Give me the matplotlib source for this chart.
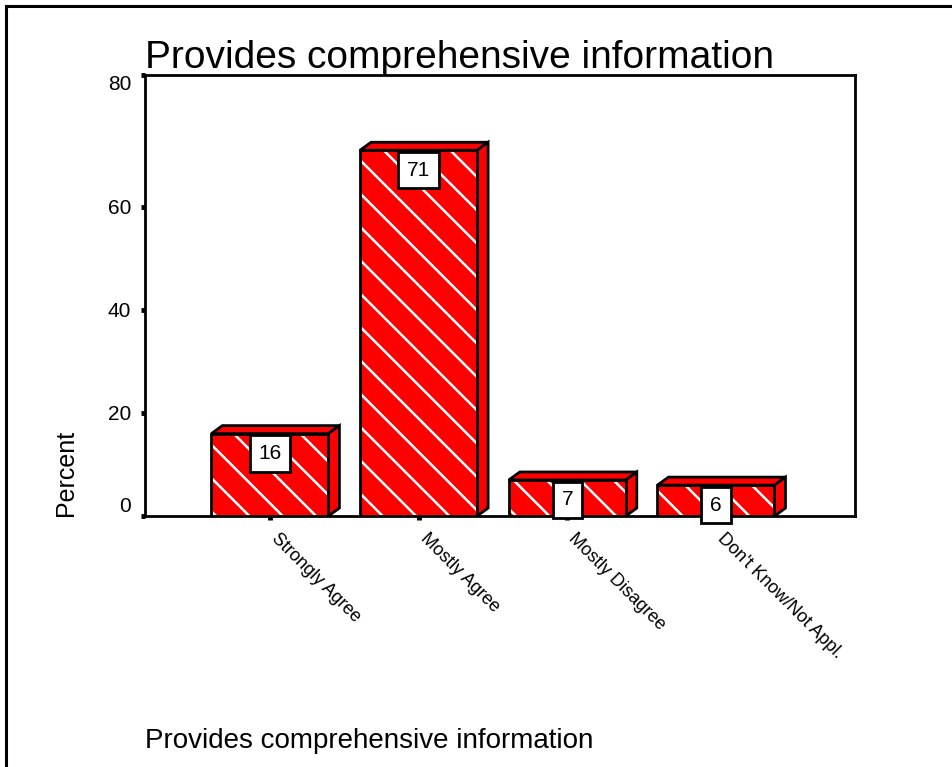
import numpy as np
import matplotlib
matplotlib.use('Agg')
import matplotlib.pyplot as plt
import matplotlib.transforms as mtransforms
from matplotlib.lines import Line2D

plt.rcParams['font.family'] = ['Liberation Sans', 'DejaVu Sans']
plt.rcParams['hatch.linewidth'] = 1.8

title = 'Provides comprehensive information'
categories = ['Strongly Agree', 'Mostly Agree', 'Mostly Disagree', "Don't Know/Not Appl."]
percent = [16, 71, 7, 6]
tick_labels = ['0', '20', '40', '60', '80']

red = '#ff0000'
y_top = 85.6
width = 0.787
dx, dy = 0.074, 1.55   # 3d depth in data units

fig = plt.figure(figsize=(9.52, 7.67), dpi=100)
ax = fig.add_axes([0.1523, 0.3272, 0.7458, 0.575])

x = np.arange(len(categories))
for xi, v in zip(x, percent):
    x0, x1 = xi - width / 2, xi + width / 2
    # top and side faces
    ax.fill([x0, x0 + dx, x1 + dx, x1], [v, v + dy, v + dy, v],
            facecolor=red, edgecolor='black', lw=2, zorder=2)
    ax.fill([x1, x1 + dx, x1 + dx, x1], [0, dy, v + dy, v],
            facecolor=red, edgecolor='black', lw=2, zorder=2)
ax.bar(x, percent, width, color=red, edgecolor='white', hatch='\\', lw=0, zorder=3)
ax.bar(x, percent, width, fill=False, edgecolor='black', lw=2, zorder=4)

for xi, v in zip(x, percent):
    ax.annotate(str(v), xy=(xi, v), xytext=(0, -7.5), textcoords='offset points',
                ha='center', va='top', fontsize=15, zorder=6,
                bbox=dict(boxstyle='square,pad=0.42', fc='white', ec='black', lw=2))

ax.set_xlim(-0.84, 3.935)
ax.set_ylim(0, y_top)
ax.set_yticks([0, 20, 40, 60, y_top], labels=tick_labels, fontsize=15)
ax.set_xticks(x)
ax.set_xticklabels(categories, rotation=-45, ha='left', va='top',
                   rotation_mode='anchor', fontsize=13)
ax.tick_params(axis='both', length=3, width=3.5, color='black')
ax.tick_params(axis='y', pad=7)
ax.tick_params(axis='x', pad=7)
ylabs = ax.get_yticklabels()
ylabs[0].set_va('bottom')
ylabs[-1].set_va('top')
shift = mtransforms.ScaledTranslation(10 / 100, 0, fig.dpi_scale_trans)
for lab in ax.get_xticklabels():
    lab.set_transform(lab.get_transform() + shift)
for s in ax.spines.values():
    s.set_linewidth(2)

fig.text(145 / 952, 1 - 58 / 767, title, fontsize=28, ha='left', va='center')
fig.text(145 / 952, 1 - 741 / 767, title, fontsize=20, ha='left', va='center')
fig.text(66 / 952, 1 - 473 / 767, 'Percent', fontsize=18, rotation=90,
         ha='center', va='center')

# outer frame
fig.add_artist(Line2D([6 / 952, 1], [1 - 6 / 767, 1 - 6 / 767], color='black', lw=2.2))
fig.add_artist(Line2D([6 / 952, 6 / 952], [0, 1 - 6 / 767], color='black', lw=2.2))

fig.savefig('out.png', dpi=100)
